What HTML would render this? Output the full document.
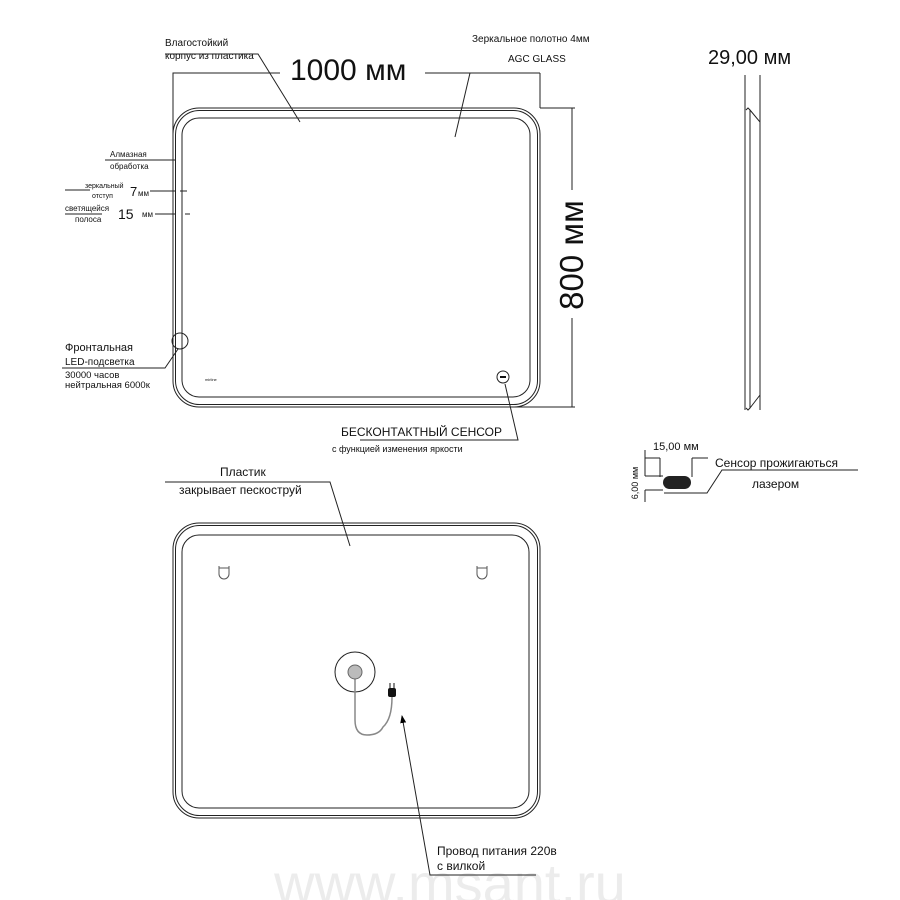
<!DOCTYPE html>
<html><head><meta charset="utf-8"><style>
html,body{margin:0;padding:0;background:#fff;}
svg{display:block;font-family:"Liberation Sans",sans-serif;}
</style></head><body>
<svg width="900" height="900" viewBox="0 0 900 900" xmlns="http://www.w3.org/2000/svg">
<defs><marker id="ar" markerWidth="8" markerHeight="8" refX="7" refY="4" orient="auto"><path d="M0,1 L8,4 L0,7 z" fill="#000"/></marker></defs>
<text x="450" y="903" font-size="56" fill="#ececec" text-anchor="middle">www.msant.ru</text>
<g fill="none" stroke="#222" stroke-width="1">
<rect x="173" y="108" width="367" height="299" rx="26"/>
<rect x="175.5" y="110.5" width="362" height="294" rx="24"/>
<rect x="182" y="118" width="348" height="279" rx="17"/>
<polyline points="173,160 173,73 280,73"/>
<line x1="425" y1="73" x2="540" y2="73"/>
<line x1="540" y1="73" x2="540" y2="108"/>
<line x1="540" y1="108" x2="575" y2="108"/>
<line x1="510" y1="407" x2="575" y2="407"/>
<line x1="572" y1="108" x2="572" y2="190"/>
<line x1="572" y1="318" x2="572" y2="407"/>
<polyline points="165,54 258,54 300,122"/>
<polyline points="470,73 455,137"/>
<line x1="105" y1="160" x2="176" y2="160"/>
<line x1="65" y1="190" x2="90" y2="190"/>
<line x1="150" y1="191" x2="175" y2="191"/>
<line x1="180" y1="191" x2="187" y2="191"/>
<line x1="65" y1="214" x2="102" y2="214"/>
<line x1="155" y1="214" x2="175" y2="214"/>
<line x1="185" y1="214" x2="190" y2="214"/>
<circle cx="180" cy="341" r="8"/>
<polyline points="62,368 165,368 178,349"/>
<circle cx="503" cy="377" r="6"/>
<polyline points="360,440 518,440 505,384"/>
<line x1="745" y1="75" x2="745" y2="410"/>
<line x1="760" y1="75" x2="760" y2="410"/>
<polyline points="746,110 748,108 750,110 750,408 748,410 746,408"/>
<polyline points="750,110 760,122 760,395 750,408"/>
<line x1="645" y1="458" x2="660" y2="458"/>
<line x1="660" y1="458" x2="660" y2="477"/>
<line x1="692" y1="458" x2="692" y2="477"/>
<line x1="692" y1="458" x2="708" y2="458"/>
<line x1="645" y1="476" x2="663" y2="476"/>
<line x1="645" y1="490" x2="663" y2="490"/>
<line x1="645" y1="490" x2="645" y2="502"/>
<line x1="645" y1="450" x2="645" y2="476"/>
<polyline points="664,493 707,493 722,470 858,470"/>
<rect x="173" y="523" width="367" height="295" rx="26"/>
<rect x="175.5" y="525.5" width="362" height="290" rx="24"/>
<rect x="182" y="535" width="347" height="273" rx="17"/>
<polyline points="165,482 330,482 350,546"/>
<circle cx="355" cy="672" r="20"/>
<polyline points="536,875 430,875 402,716" marker-end="url(#ar)"/>
</g>
<g fill="none" stroke="#555" stroke-width="1">
<path d="M219,566 v8 a5,5 0 0 0 10,0 v-8 M219,568 h10"/>
<path d="M477,566 v8 a5,5 0 0 0 10,0 v-8 M477,568 h10"/>
<path d="M355,676 v44 q0,15 12,15 q12,0 16,-8 q9,-8 9,-30" stroke="#888" stroke-width="1.5"/>
</g>
<circle cx="355" cy="672" r="7" fill="#bbb" stroke="#666"/>
<rect x="388" y="688" width="8" height="9" rx="2" fill="#111"/>
<line x1="390" y1="683" x2="390" y2="688" stroke="#111"/>
<line x1="394" y1="683" x2="394" y2="688" stroke="#111"/>
<rect x="663" y="476" width="28" height="13" rx="6.5" fill="#222"/>
<rect x="500" y="376" width="6" height="2" fill="#111"/>
<g fill="#111">
<text x="290" y="80" font-size="30">1000 мм</text>
<text x="583" y="255" font-size="33" text-anchor="middle" transform="rotate(-90 583 255)">800 мм</text>
<text x="708" y="64" font-size="20">29,00 мм</text>
<text x="165" y="46" font-size="10">Влагостойкий</text>
<text x="165" y="59" font-size="10">корпус из пластика</text>
<text x="472" y="42" font-size="10">Зеркальное  полотно 4мм</text>
<text x="508" y="62" font-size="10">AGC GLASS</text>
<text x="110" y="157" font-size="8">Алмазная</text>
<text x="110" y="169" font-size="8">обработка</text>
<text x="85" y="188" font-size="7">зеркальный</text>
<text x="92" y="198" font-size="7">отступ</text>
<text x="130" y="196" font-size="13">7</text><text x="138" y="196" font-size="8">мм</text>
<text x="65" y="211" font-size="8">светящейся</text>
<text x="75" y="222" font-size="8">полоса</text>
<text x="118" y="219" font-size="14">15</text><text x="142" y="217" font-size="8">мм</text>
<text x="65" y="351" font-size="11">Фронтальная</text>
<text x="65" y="365" font-size="10">LED-подсветка</text>
<text x="65" y="378" font-size="9.5">30000 часов</text>
<text x="65" y="388" font-size="9.5">нейтральная 6000к</text>
<text x="205" y="381" font-size="4">mirline</text>
<text x="341" y="436" font-size="12">БЕСКОНТАКТНЫЙ СЕНСОР</text>
<text x="332" y="452" font-size="9">с функцией изменения яркости</text>
<text x="653" y="450" font-size="11">15,00 мм</text>
<text x="638" y="483" font-size="9" text-anchor="middle" transform="rotate(-90 638 483)">6,00 мм</text>
<text x="715" y="467" font-size="12">Сенсор прожигаються</text>
<text x="752" y="488" font-size="12">лазером</text>
<text x="220" y="476" font-size="12">Пластик</text>
<text x="179" y="494" font-size="12">закрывает пескоструй</text>
<text x="437" y="855" font-size="12">Провод питания 220в</text>
<text x="437" y="870" font-size="12">с вилкой</text>
</g>
</svg>
</body></html>
